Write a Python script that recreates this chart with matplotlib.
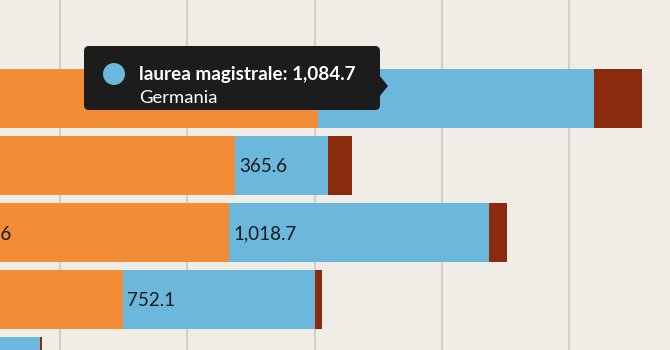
import matplotlib
matplotlib.use('Agg')
import matplotlib.pyplot as plt
from matplotlib.patches import FancyBboxPatch, Polygon, Circle
import numpy as np

plt.rcParams['font.family'] = ['Lato', 'DejaVu Sans']

# 数据
paesi = ["Germania", "Paese 2", "Paese 3", "Paese 4", "Paese 5"]
laurea_triennale = [1513.3, 1187.6, 1164.6, 748.0, 180.0]
laurea_magistrale = [1084.7, 365.6, 1018.7, 752.1, 242.3]
dottorato = [187.7, 93.0, 72.0, 29.0, 8.0]

# 标签：None 表示不显示
label_triennale = [None, None, "1,164.6", None, None]
label_magistrale = [None, "365.6", "1,018.7", "752.1", None]

griglia = [0, 500, 1000, 1500, 2000, 2500, 3000]

C_ORANGE = "#F28C36"
C_BLUE = "#6CB7DC"
C_RED = "#8B2B0E"
C_BG = "#F0EDE7"
C_GRID = "#D3CEC8"
C_TIP = "#1C1C1C"

W, H = 670, 350
fig = plt.figure(figsize=(W / 100, H / 100), dpi=100, facecolor=C_BG)
ax = fig.add_axes([0, 0, 1, 1], facecolor=C_BG)

y = np.arange(len(paesi))
h = 0.88
left2 = np.array(laurea_triennale)
left3 = left2 + np.array(laurea_magistrale)
ax.barh(y, laurea_triennale, height=h, color=C_ORANGE, zorder=2)
ax.barh(y, laurea_magistrale, left=left2, height=h, color=C_BLUE, zorder=2)
ax.barh(y, dottorato, left=left3, height=h, color=C_RED, zorder=2)

for i, t in enumerate(label_magistrale):
    if t:
        ax.annotate(t, (left2[i], y[i]), xytext=(4, -1), textcoords='offset pixels',
                    ha='left', va='center', fontsize=13.5, color="#1a1a1a", zorder=3)
for i, t in enumerate(label_triennale):
    if t:
        ax.annotate(t, (0, y[i]), xytext=(16, -1), textcoords='offset pixels',
                    ha='left', va='center', fontsize=13.5, color="#1a1a1a", zorder=3,
                    annotation_clip=False)

ax.set_xticks(griglia)
ax.grid(axis='x', color=C_GRID, linewidth=1.5, zorder=0)
ax.set_axisbelow(True)
ax.tick_params(length=0, labelbottom=False, labelleft=False)
for s in ax.spines.values():
    s.set_visible(False)

# 坐标范围：图为局部截取（set_xticks 之后再设）
scale = 0.2548  # px / unità
x0 = 67.6 / scale
ax.set_xlim(x0, x0 + W / scale)
pitch = 67.0
ax.set_ylim(H / pitch - 98.5 / pitch, -98.5 / pitch)

# tooltip，坐标按像素（左上为原点）换算成英寸
def ix(px):
    return px / 100

def iy(py):
    return (H - py) / 100

tr = fig.dpi_scale_trans
tip = FancyBboxPatch((ix(88), iy(106)), (380 - 88 - 4) / 100, (106 - 50) / 100,
                     boxstyle="round,pad=0.04,rounding_size=0.05",
                     transform=tr, facecolor=C_TIP, edgecolor='none', zorder=10)
fig.patches.append(tip)
fig.patches.append(Polygon([[ix(379), iy(75)], [ix(388), iy(86)], [ix(379), iy(97)]],
                           closed=True, transform=tr,
                           facecolor=C_TIP, edgecolor='none', zorder=10))
fig.patches.append(Circle((ix(114), iy(74)), 0.11, transform=tr,
                          facecolor=C_BLUE, edgecolor='none', zorder=11))
tx = ix(139) / (W / 100)
fig.text(tx, iy(74) / (H / 100), "laurea magistrale: 1,084.7",
         fontsize=13.6, fontweight='bold', color='white', va='center', ha='left', zorder=12)
fig.text(tx, iy(98) / (H / 100), "Germania", fontsize=13.3, color='white',
         va='center', ha='left', zorder=12)

fig.savefig("out.png", dpi=100, facecolor=C_BG)
